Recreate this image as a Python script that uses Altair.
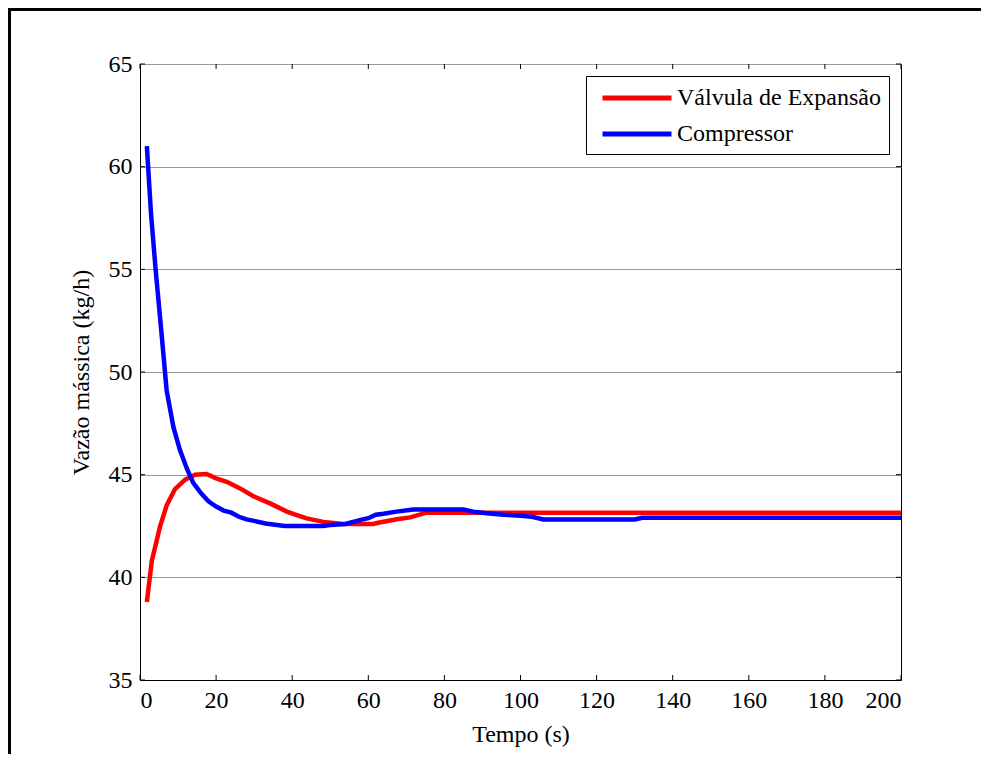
import altair as alt
import pandas as pd

# ---- data ----
t_valvula = [1.8, 3.1, 5.3, 7.0, 9.2, 11.8, 14.5, 17.5, 20.0, 22.8, 26.3, 29.8, 34.2,
             38.6, 41.2, 43.8, 48.2, 53.4, 61.3, 62.6, 67.5, 71.0, 75.3, 200.0]
v_valvula = [38.8, 40.8, 42.5, 43.5, 44.3, 44.75, 45.0, 45.03, 44.82, 44.65, 44.33, 43.95, 43.6,
             43.2, 43.03, 42.87, 42.7, 42.6, 42.6, 42.66, 42.83, 42.92, 43.15, 43.15]

t_comp = [1.8, 2.9, 4.1, 5.6, 7.0, 8.8, 10.5, 12.3, 14.0, 16.0, 18.0, 20.0, 22.0, 24.0, 26.0,
          28.0, 30.0, 33.0, 36.0, 38.0, 48.0, 50.0, 54.0, 56.0, 58.0, 60.0, 62.0, 64.0, 67.4,
          71.8, 85.0, 87.6, 91.1, 95.5, 100.0, 103.0, 106.0, 130.0, 132.0, 200.0]
v_comp = [61.0, 57.7, 55.0, 52.0, 49.1, 47.3, 46.2, 45.3, 44.6, 44.1, 43.7, 43.45, 43.25, 43.15, 42.95,
          42.82, 42.75, 42.62, 42.55, 42.5, 42.5, 42.55, 42.6, 42.7, 42.8, 42.88, 43.05, 43.1, 43.2,
          43.3, 43.3, 43.2, 43.12, 43.05, 43.0, 42.95, 42.82, 42.82, 42.9, 42.9]

series_names = ["Válvula de Expansão", "Compressor"]
series_colors = ["#ff0000", "#0000ff"]

x_ticks = [0, 20, 40, 60, 80, 100, 120, 140, 160, 180, 200]
y_ticks = [35, 40, 45, 50, 55, 60, 65]

W, H = 761, 616
FONT = "Liberation Serif"

df_v = pd.DataFrame({"t": t_valvula, "val": v_valvula, "serie": series_names[0]})
df_c = pd.DataFrame({"t": t_comp, "val": v_comp, "serie": series_names[1]})
df_xt = pd.DataFrame({"t": x_ticks})
df_yt = pd.DataFrame({"val": y_ticks})
one = pd.DataFrame({"a": [0]})

xscale = alt.Scale(domain=[0, 200], nice=False, zero=False)
yscale = alt.Scale(domain=[35, 65], nice=False, zero=False)

x_axis = alt.Axis(
    values=x_ticks, format="d", ticks=False, grid=False, domainColor="black",
    labelFont=FONT, labelFontSize=24, labelColor="black", labelPadding=8,
    titleFont=FONT, titleFontSize=24, titleFontWeight="normal",
    titleColor="black", titlePadding=10)
y_axis = alt.Axis(
    values=y_ticks, format="d", ticks=False, grid=True, gridColor="#9a9a9a", gridWidth=1,
    domainColor="black",
    labelFont=FONT, labelFontSize=24, labelColor="black", labelPadding=8,
    titleFont=FONT, titleFontSize=24, titleFontWeight="normal",
    titleColor="black", titlePadding=15)

x_enc = alt.X("t:Q", scale=xscale, axis=x_axis, title="Tempo (s)")
y_enc = alt.Y("val:Q", scale=yscale, axis=y_axis, title="Vazão mássica (kg/h)")

color_enc = alt.Color("serie:N",
                      scale=alt.Scale(domain=series_names, range=series_colors),
                      sort=series_names,
                      legend=alt.Legend(title=None, orient="none", legendX=446, legendY=12,
                                        direction="vertical", symbolType="M-3,0H3",
                                        symbolSize=529, symbolStrokeWidth=5,
                                        symbolOffset=29,
                                        labelFont=FONT, labelFontSize=24, labelColor="black",
                                        labelLimit=400, strokeColor="black", fillColor="white",
                                        padding=8, rowPadding=10, labelOffset=26))

line_v = alt.Chart(df_v).mark_line(strokeWidth=4.5, clip=True).encode(x=x_enc, y=y_enc, color=color_enc)
line_c = alt.Chart(df_c).mark_line(strokeWidth=4.5, clip=True).encode(x=x_enc, y=y_enc, color=color_enc)

tick_b = alt.Chart(df_xt).mark_rule(color="black", strokeWidth=1).encode(
    x=x_enc, y=alt.value(H), y2=alt.value(H - 5))
tick_t = alt.Chart(df_xt).mark_rule(color="black", strokeWidth=1).encode(
    x=x_enc, y=alt.value(0), y2=alt.value(5))
tick_l = alt.Chart(df_yt).mark_rule(color="black", strokeWidth=1).encode(
    y=y_enc, x=alt.value(0), x2=alt.value(5))
tick_r = alt.Chart(df_yt).mark_rule(color="black", strokeWidth=1).encode(
    y=y_enc, x=alt.value(W), x2=alt.value(W - 5))

frame_top = alt.Chart(one).mark_rule(color="black", strokeWidth=3).encode(
    x=alt.value(-131), x2=alt.value(W + 120), y=alt.value(-54.5))
frame_left = alt.Chart(one).mark_rule(color="black", strokeWidth=3).encode(
    x=alt.value(-130.5), y=alt.value(-56), y2=alt.value(H + 120))

chart = alt.layer(
    line_v, line_c, tick_b, tick_t, tick_l, tick_r, frame_top, frame_left
).properties(
    width=W, height=H,
    autosize=alt.AutoSizeParams(type="none"),
    padding={"left": 132, "top": 56, "right": 80, "bottom": 74},
    background="white",
).configure_view(stroke="black", strokeWidth=1)

chart.save("out.html", embed_options={"renderer": "svg", "actions": False})
